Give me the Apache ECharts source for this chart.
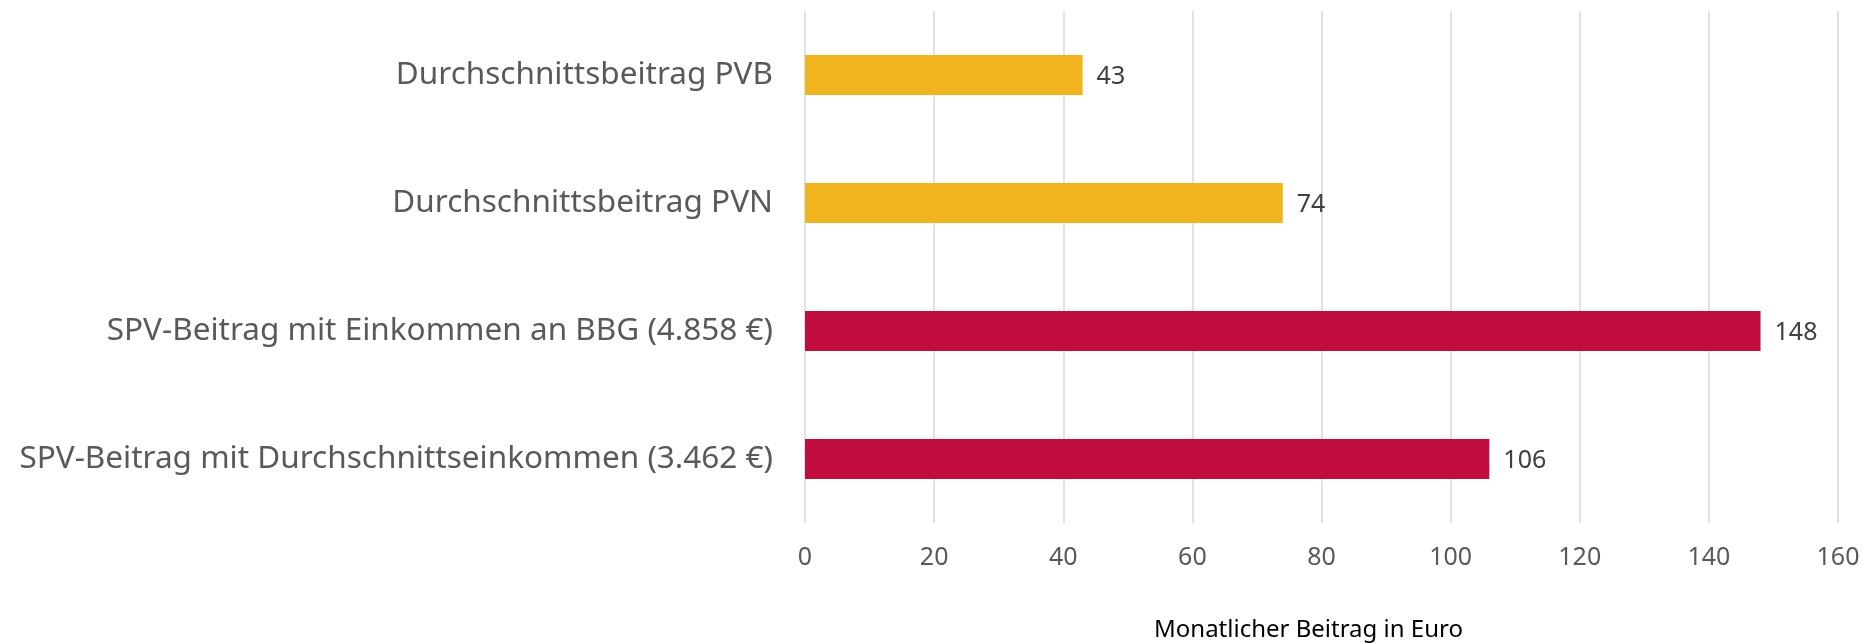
<!DOCTYPE html>
<html>
<head>
<meta charset="utf-8">
<script src="https://cdn.jsdelivr.net/npm/echarts@6/dist/echarts.min.js"></script>
<style>
html,body{margin:0;padding:0;background:#fff;}
#chart{width:1876px;height:643px;}
</style>
</head>
<body>
<div id="chart"></div>
<script>
const categories = [
  'Durchschnittsbeitrag PVB',
  'Durchschnittsbeitrag PVN',
  'SPV-Beitrag mit Einkommen an BBG (4.858 €)',
  'SPV-Beitrag mit Durchschnittseinkommen (3.462 €)'
];
const values = [43, 74, 148, 106];
const barColors = ['#F0B41E', '#F0B41E', '#C00C3F', '#C00C3F'];
const axisTitle = 'Monatlicher Beitrag in Euro';

const FONT = 'Noto Sans';
const chart = echarts.init(document.getElementById('chart'), null, {renderer: 'canvas'});
chart.setOption({
  backgroundColor: '#ffffff',
  animation: false,
  grid: {left: 805, right: 38, top: 11, bottom: 120, containLabel: false, outerBoundsMode: 'none'},
  xAxis: {
    type: 'value', min: 0, max: 160, interval: 20,
    axisLine: {show: false}, axisTick: {show: false},
    splitLine: {show: true, lineStyle: {color: '#d9d9d9', width: 1.5}},
    axisLabel: {color: '#595959', fontSize: 25, fontFamily: FONT, margin: 22},
    name: axisTitle, nameLocation: 'middle', nameGap: 95,
    nameTextStyle: {color: '#000000', fontSize: 24, fontFamily: FONT, padding: [0, 26, 0, 0]}
  },
  yAxis: {
    type: 'category', inverse: true, data: categories,
    axisLine: {show: false}, axisTick: {show: false},
    axisLabel: {color: '#595959', fontSize: 31.5, fontFamily: FONT, margin: 32}
  },
  series: [{
    type: 'bar', barWidth: 40,
    data: values.map((v, i) => ({value: v, itemStyle: {color: barColors[i]}})),
    label: {show: true, position: 'right', distance: 14, offset: [0, 2], color: '#404040', fontSize: 25, fontFamily: FONT}
  }]
});
</script>
</body>
</html>
